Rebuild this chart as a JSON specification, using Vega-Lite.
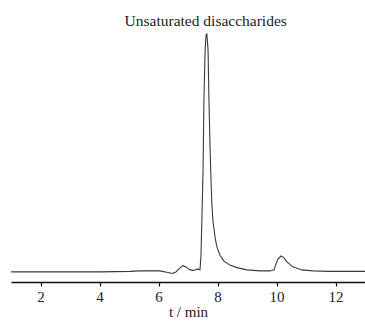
{
  "$schema": "https://vega.github.io/schema/vega-lite/v6.json",
  "autosize": {"type": "none"},
  "width": 354,
  "height": 252,
  "padding": {"left": 11, "top": 30, "right": 0, "bottom": 41},
  "background": "white",
  "config": {"view": {"stroke": null}},
  "datasets": {
    "trace": [
      {"t": 1.0, "v": 4.0}, {"t": 2.66, "v": 4.0}, {"t": 4.02, "v": 4.0}, {"t": 5.03, "v": 4.2},
      {"t": 5.37, "v": 4.4}, {"t": 6.05, "v": 4.4}, {"t": 6.32, "v": 3.8}, {"t": 6.46, "v": 3.4},
      {"t": 6.59, "v": 4.0}, {"t": 6.73, "v": 5.6}, {"t": 6.83, "v": 6.5}, {"t": 6.93, "v": 6.0},
      {"t": 7.07, "v": 4.8}, {"t": 7.2, "v": 4.6}, {"t": 7.34, "v": 5.2}, {"t": 7.407, "v": 4.8},
      {"t": 7.44, "v": 10.7}, {"t": 7.47, "v": 24.6}, {"t": 7.51, "v": 44.4}, {"t": 7.54, "v": 72.2},
      {"t": 7.58, "v": 92.1}, {"t": 7.61, "v": 98.0}, {"t": 7.64, "v": 98.4}, {"t": 7.68, "v": 92.1},
      {"t": 7.71, "v": 72.2}, {"t": 7.75, "v": 52.4}, {"t": 7.78, "v": 40.5}, {"t": 7.81, "v": 30.6},
      {"t": 7.85, "v": 23.8}, {"t": 7.92, "v": 17.5}, {"t": 7.98, "v": 13.9}, {"t": 8.08, "v": 10.7},
      {"t": 8.22, "v": 8.3}, {"t": 8.42, "v": 6.7}, {"t": 8.69, "v": 5.6}, {"t": 9.0, "v": 4.8},
      {"t": 9.44, "v": 4.4}, {"t": 9.78, "v": 4.4}, {"t": 9.92, "v": 4.8}, {"t": 9.98, "v": 7.1},
      {"t": 10.05, "v": 9.1}, {"t": 10.15, "v": 10.3}, {"t": 10.25, "v": 9.7}, {"t": 10.36, "v": 7.9},
      {"t": 10.56, "v": 6.0}, {"t": 10.86, "v": 4.8}, {"t": 11.24, "v": 4.4}, {"t": 11.81, "v": 4.2},
      {"t": 13.0, "v": 4.2}
    ],
    "notes": [
      {"t": 7.6, "v": 103.5, "label": "Unsaturated disaccharides"}
    ]
  },
  "layer": [
    {
      "data": {"name": "trace"},
      "mark": {"type": "line", "color": "#3a3a3a", "strokeWidth": 1.1, "clip": false},
      "encoding": {
        "x": {
          "field": "t", "type": "quantitative",
          "scale": {"domain": [1, 13], "nice": false, "zero": false},
          "axis": {
            "values": [2, 4, 6, 8, 10, 12],
            "title": "t / min",
            "grid": false,
            "domainColor": "#111", "domainWidth": 1.6,
            "tickColor": "#111", "tickSize": 4, "tickWidth": 1.2,
            "labelFont": "Liberation Serif", "labelFontSize": 15, "labelColor": "#222",
            "labelPadding": 3,
            "titleFont": "Liberation Serif", "titleFontSize": 15, "titleFontWeight": "normal",
            "titleColor": "#222", "titlePadding": 0
          }
        },
        "y": {
          "field": "v", "type": "quantitative",
          "scale": {"domain": [0, 100], "nice": false},
          "axis": null
        }
      }
    },
    {
      "data": {"name": "notes"},
      "mark": {"type": "text", "font": "Liberation Serif", "fontSize": 15.5, "color": "#222", "align": "center", "baseline": "middle", "clip": false},
      "encoding": {
        "x": {"field": "t", "type": "quantitative"},
        "y": {"field": "v", "type": "quantitative"},
        "text": {"field": "label"}
      }
    }
  ]
}
